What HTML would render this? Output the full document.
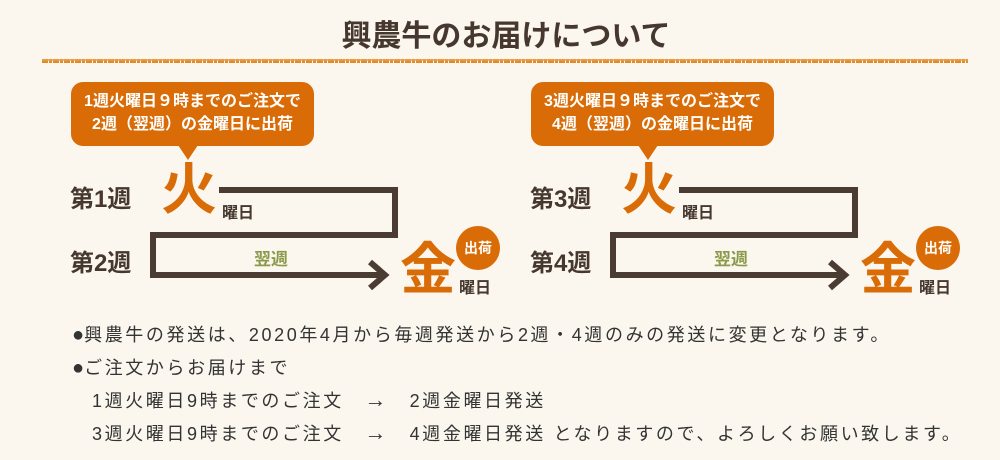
<!DOCTYPE html>
<html><head><meta charset="utf-8"><style>
body{margin:0;width:1000px;height:460px;background:#fbf7ee;position:relative;overflow:hidden;font-family:"Liberation Sans","Noto Sans CJK JP",sans-serif;}
.a{position:absolute;white-space:nowrap;}
.t{font-weight:bold;color:#46382f;}
.bub{position:absolute;background:#d96c06;border-radius:12px;color:#fff;font-weight:bold;font-size:16px;line-height:23px;text-align:center;padding-top:8px;box-sizing:border-box;}
.big{font-weight:bold;color:#d96c06;font-size:56px;line-height:56px;}
.circ{position:absolute;width:44px;height:44px;border-radius:50%;background:#d96c06;color:#fff;font-weight:bold;font-size:14px;line-height:44px;text-align:center;}
.txt{font-size:18px;color:#333;letter-spacing:2.6px;}
.b{font-size:20px;letter-spacing:0;}
.ar{font-size:22px;}
</style></head><body>
<div class="a t" style="left:6px;width:1000px;text-align:center;top:11px;font-size:30px;">興農牛のお届けについて</div>
<svg class="a" style="left:0;top:0" width="1000" height="460">
<line x1="42" y1="61" x2="968" y2="61" stroke="#e08a2a" stroke-width="4" stroke-dasharray="6 1 3 1"/>
<line x1="42" y1="60" x2="968" y2="60" stroke="#e9a04a" stroke-width="1.5"/>
<g fill="none" stroke="#4a3b33" stroke-width="6">
<path d="M219 190 H395 V235 H153 V275 H383"/>
<path d="M370 262 L385 275 L370 288"/>
</g>
<g transform="translate(460,0)" fill="none" stroke="#4a3b33" stroke-width="6">
<path d="M219 190 H395 V235 H153 V275 H383"/>
<path d="M370 262 L385 275 L370 288"/>
</g>
<polygon points="178,145 198,145 188,160" fill="#d96c06"/>
<polygon points="638,145 658,145 648,160" fill="#d96c06"/>
</svg>

<div class="bub" style="left:71px;top:82px;width:243px;height:64px;">1週火曜日９時までのご注文で<br>2週（翌週）の金曜日に出荷</div>
<div class="bub" style="left:531px;top:82px;width:243px;height:64px;">3週火曜日９時までのご注文で<br>4週（翌週）の金曜日に出荷</div>

<div class="a t" style="left:70px;top:179px;font-size:24px;">第1週</div>
<div class="a t" style="left:70px;top:243px;font-size:24px;">第2週</div>
<div class="a big" style="left:161px;top:162px;">火</div>
<div class="a t" style="left:222px;top:199px;font-size:16px;">曜日</div>
<div class="a" style="left:254px;top:245px;font-size:17px;font-weight:bold;color:#8a9a4a;">翌週</div>
<div class="a big" style="left:400px;top:242px;">金</div>
<div class="circ" style="left:456px;top:226px;">出荷</div>
<div class="a t" style="left:459px;top:274px;font-size:16px;">曜日</div>

<div class="a t" style="left:530px;top:179px;font-size:24px;">第3週</div>
<div class="a t" style="left:530px;top:243px;font-size:24px;">第4週</div>
<div class="a big" style="left:621px;top:162px;">火</div>
<div class="a t" style="left:682px;top:199px;font-size:16px;">曜日</div>
<div class="a" style="left:714px;top:245px;font-size:17px;font-weight:bold;color:#8a9a4a;">翌週</div>
<div class="a big" style="left:860px;top:242px;">金</div>
<div class="circ" style="left:916px;top:226px;">出荷</div>
<div class="a t" style="left:919px;top:274px;font-size:16px;">曜日</div>

<div class="a txt" style="left:72px;top:321px;"><span class="b">●</span>興農牛の発送は、2020年4月から毎週発送から2週・4週のみの発送に変更となります。</div>
<div class="a txt" style="left:72px;top:354px;"><span class="b">●</span>ご注文からお届けまで</div>
<div class="a txt" style="left:92px;top:387px;">1週火曜日9時までのご注文　<span class="ar">→</span>　2週金曜日発送</div>
<div class="a txt" style="left:92px;top:420px;">3週火曜日9時までのご注文　<span class="ar">→</span>　4週金曜日発送 となりますので、よろしくお願い致します。</div>
</body></html>
